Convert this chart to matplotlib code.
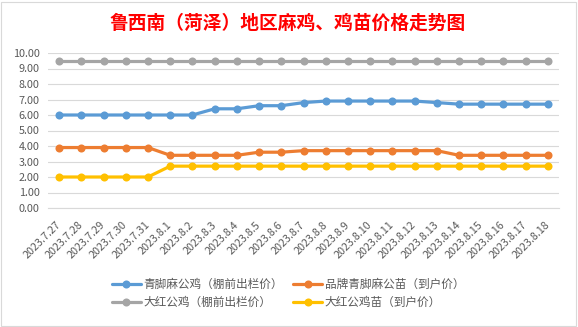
import matplotlib
matplotlib.use("Agg")
import matplotlib.pyplot as plt
from matplotlib.patches import Rectangle

plt.rcParams['font.family'] = ['Noto Sans CJK SC', 'DejaVu Sans']

dates = ["2023.7.27", "2023.7.28", "2023.7.29", "2023.7.30", "2023.7.31",
         "2023.8.1", "2023.8.2", "2023.8.3", "2023.8.4", "2023.8.5", "2023.8.6",
         "2023.8.7", "2023.8.8", "2023.8.9", "2023.8.10", "2023.8.11", "2023.8.12",
         "2023.8.13", "2023.8.14", "2023.8.15", "2023.8.16", "2023.8.17", "2023.8.18"]

qingjiao_gongji = [6.0, 6.0, 6.0, 6.0, 6.0, 6.0, 6.0, 6.4, 6.4, 6.6, 6.6,
                   6.8, 6.9, 6.9, 6.9, 6.9, 6.9, 6.8, 6.7, 6.7, 6.7, 6.7, 6.7]
pinpai_miao = [3.9, 3.9, 3.9, 3.9, 3.9, 3.4, 3.4, 3.4, 3.4, 3.6, 3.6,
               3.7, 3.7, 3.7, 3.7, 3.7, 3.7, 3.7, 3.4, 3.4, 3.4, 3.4, 3.4]
dahong_gongji = [9.5] * 23
dahong_miao = [2.0, 2.0, 2.0, 2.0, 2.0, 2.7, 2.7, 2.7, 2.7, 2.7, 2.7,
               2.7, 2.7, 2.7, 2.7, 2.7, 2.7, 2.7, 2.7, 2.7, 2.7, 2.7, 2.7]

names = ["青脚麻公鸡（棚前出栏价）", "品牌青脚麻公苗（到户价）",
         "大红公鸡（棚前出栏价）", "大红公鸡苗（到户价）"]
colors = ["#5B9BD5", "#ED7D31", "#A5A5A5", "#FFC000"]
series = [qingjiao_gongji, pinpai_miao, dahong_gongji, dahong_miao]

W, H = 578, 327
fig = plt.figure(figsize=(W / 100, H / 100), dpi=100)
fig.patch.set_facecolor("white")
fig.add_artist(Rectangle((1 / W, 1 / H), (W - 3) / W, (H - 3) / H, transform=fig.transFigure,
                         fill=False, edgecolor="#d9d9d9", linewidth=0.8))

ax = fig.add_axes([48 / W, (H - 208) / H, 511 / W, 155 / H])
x = list(range(len(dates)))
handles = []
for s, c, n in zip(series, colors, names):
    ln, = ax.plot(x, s, color=c, linewidth=2.3, marker="o", markersize=5.8,
                  markeredgewidth=0, label=n, solid_capstyle="round")
    handles.append(ln)

ax.set_xlim(-0.5, len(dates) - 0.5)
ax.set_ylim(0, 10)
ax.set_yticks(range(0, 11))
ax.set_yticklabels([f"{v:.2f}" for v in range(0, 11)])
ax.grid(axis="y", color="#d9d9d9", linewidth=0.8)
ax.set_axisbelow(True)
for sp in ["top", "right", "left"]:
    ax.spines[sp].set_visible(False)
ax.spines["bottom"].set_color("#d9d9d9")
ax.spines["bottom"].set_linewidth(0.8)
ax.tick_params(axis="both", length=0, colors="#595959", labelsize=7.8)
ax.tick_params(axis="y", pad=6)
ax.set_xticks(x)
ax.set_xticklabels(dates, rotation=45, ha="right", va="center", rotation_mode="anchor")
ax.tick_params(axis="x", pad=11)

fig.text(288 / W, 1 - 23 / H, "鲁西南（菏泽）地区麻鸡、鸡苗价格走势图", ha="center", va="center",
         color="#FF0000", fontsize=13.5, fontweight="bold")

order = [0, 2, 1, 3]
leg = fig.legend([handles[i] for i in order], [names[i] for i in order], ncol=2,
                 loc="center", bbox_to_anchor=(288 / W, 1 - 293.5 / H), frameon=False,
                 fontsize=8.4, handlelength=2.5, handletextpad=0.2, columnspacing=0.9,
                 labelspacing=0.45, borderpad=0)
for t in leg.get_texts():
    t.set_color("#595959")

fig.savefig("out.png", dpi=100)
